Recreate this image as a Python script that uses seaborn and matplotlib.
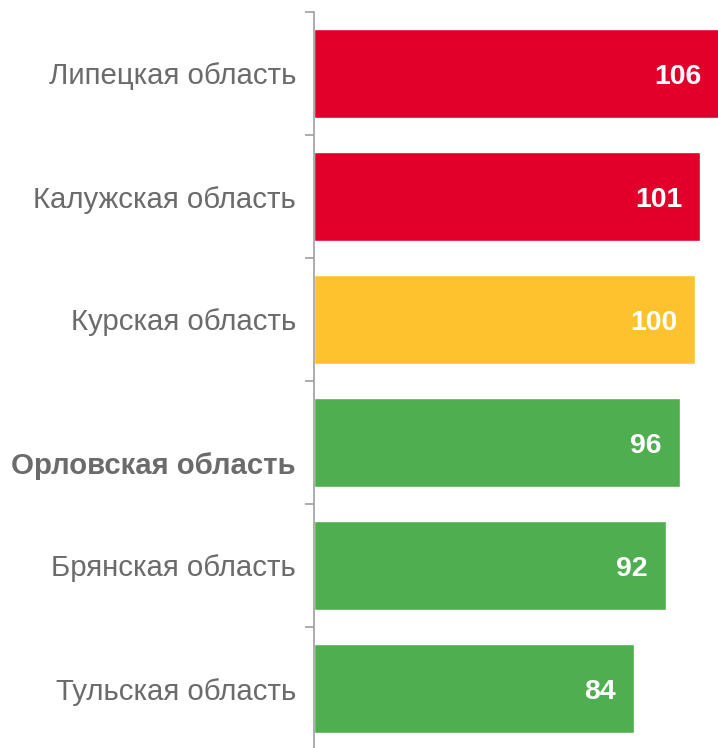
import matplotlib
matplotlib.use("Agg")
import matplotlib.pyplot as plt
from matplotlib.transforms import ScaledTranslation
from matplotlib.ticker import FixedLocator
import seaborn as sns
import pandas as pd

regions = ["Липецкая область", "Калужская область", "Курская область",
           "Орловская область", "Брянская область", "Тульская область"]
values = [106.4, 101.4, 100.0, 96.0, 92.4, 84.0]
labels = ["106", "101", "100", "96", "92", "84"]
colors = ["#E2002B", "#E2002B", "#FDC22E", "#4FAE50", "#4FAE50", "#4FAE50"]
highlight = "Орловская область"

sns.set_theme(style="white")
plt.rcParams["font.family"] = ["Liberation Sans", "DejaVu Sans"]

df = pd.DataFrame({"region": regions, "value": values})

fig = plt.figure(figsize=(7.18, 7.48), dpi=100)
W, H = 718, 748
ax = fig.add_axes([314 / W, -2 / H, 1 - 314 / W, 738 / H])

sns.barplot(data=df, x="value", y="region", hue="region",
            palette=dict(zip(regions, colors)), legend=False,
            width=0.72, orient="h", saturation=1, ax=ax)

ax.set_xlim(0, 106)
ax.set_ylim(len(regions) - 0.5, -0.5)
ax.set_xlabel("")
ax.set_ylabel("")
ax.set_xticks([])

for s in ["top", "right", "bottom"]:
    ax.spines[s].set_visible(False)
ax.spines["left"].set_color("#A6A6A6")
ax.spines["left"].set_linewidth(1.3)

ax.yaxis.set_minor_locator(FixedLocator([i - 0.5 for i in range(len(regions) + 1)]))
ax.tick_params(axis="y", which="major", length=0, pad=13, labelsize=21.2,
               labelcolor="#6B6B6B")
ax.tick_params(axis="y", which="minor", length=6.5, width=1.3, color="#A6A6A6",
               left=True, direction="out")

for lab in ax.get_yticklabels():
    if lab.get_text() == highlight:
        lab.set_fontweight("bold")
        lab.set_transform(lab.get_transform() +
                          ScaledTranslation(0, -21 / 100, fig.dpi_scale_trans))

for i, (v, t) in enumerate(zip(values, labels)):
    ax.annotate(t, xy=(v, i), xytext=(-13, -2.5), textcoords="offset points",
                ha="right", va="center", color="white", fontweight="bold",
                fontsize=20.5, annotation_clip=False)

fig.savefig("out.png", dpi=100)
